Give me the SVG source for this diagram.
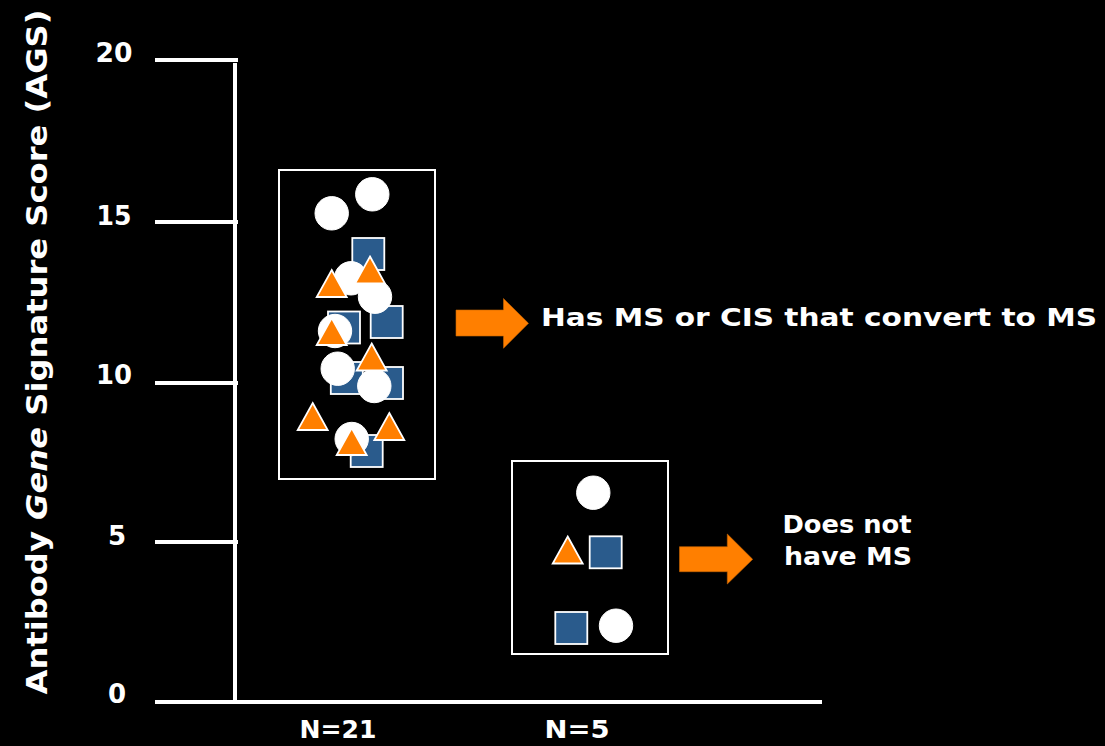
<svg xmlns="http://www.w3.org/2000/svg" width="1105" height="746" viewBox="0 0 1105 746">
<defs>
<style>
.t{font-family:"DejaVu Sans","Liberation Sans",sans-serif;font-weight:bold;fill:#fff}
.ax{stroke:#fff;stroke-width:4;fill:none}
.box{stroke:#fff;stroke-width:2;fill:none}
.c{fill:#fff;stroke:#fff;stroke-width:1}
.s{fill:#2A5B8C;stroke:#fff;stroke-width:1.8}
.tr{fill:#FF7F00;stroke:#fff;stroke-width:1.8;stroke-linejoin:miter}
.ar{fill:#FF7F00;stroke:#C86400;stroke-width:0.6}
</style>
<circle id="cm" r="16.7"/>
<rect id="sm" x="-16" y="-16" width="32" height="32"/>
<polygon id="tm" points="0,-14 15,13 -15,13"/>
</defs>
<rect width="1105" height="746" fill="#000"/>

<g id="axes">
<line class="ax" x1="235" y1="63" x2="235" y2="702"/>
<line class="ax" x1="155" y1="702" x2="822" y2="702" stroke-width="5"/>
<line class="ax" x1="155" y1="60" x2="238" y2="60"/>
<line class="ax" x1="155" y1="222" x2="238" y2="222"/>
<line class="ax" x1="155" y1="383" x2="238" y2="383"/>
<line class="ax" x1="155" y1="542" x2="238" y2="542"/>
<text class="t" x="114" y="62" font-size="26" text-anchor="middle" textLength="37" lengthAdjust="spacingAndGlyphs">20</text>
<text class="t" x="114" y="225" font-size="26" text-anchor="middle" textLength="35" lengthAdjust="spacingAndGlyphs">15</text>
<text class="t" x="114" y="384" font-size="26" text-anchor="middle" textLength="36" lengthAdjust="spacingAndGlyphs">10</text>
<text class="t" x="117" y="545" font-size="26" text-anchor="middle">5</text>
<text class="t" x="117" y="703" font-size="26" text-anchor="middle">0</text>
<text class="t" transform="translate(47,352) rotate(-90)" font-size="29" text-anchor="middle" textLength="685" lengthAdjust="spacingAndGlyphs">Antibody <tspan font-style="italic">Gene</tspan> Signature Score (AGS)</text>
<text class="t" x="338" y="738" font-size="25" text-anchor="middle" textLength="77" lengthAdjust="spacingAndGlyphs">N=21</text>
<text class="t" x="577" y="738" font-size="25" text-anchor="middle" textLength="65" lengthAdjust="spacingAndGlyphs">N=5</text>
</g>

<g id="group-n21">
<rect class="box" x="279" y="170" width="156" height="309"/>
<use href="#sm" class="s" x="368.3" y="254"/>
<use href="#sm" class="s" x="344" y="327.5"/>
<use href="#sm" class="s" x="386.7" y="322"/>
<use href="#sm" class="s" x="346.8" y="378"/>
<use href="#sm" class="s" x="387" y="383"/>
<use href="#sm" class="s" x="366.7" y="451"/>
<use href="#cm" class="c" x="331.7" y="213.3"/>
<use href="#cm" class="c" x="372.3" y="194.3"/>
<use href="#cm" class="c" x="351" y="278.3"/>
<use href="#cm" class="c" x="375" y="296.7"/>
<use href="#cm" class="c" x="335" y="331"/>
<use href="#cm" class="c" x="337.7" y="368.7"/>
<use href="#cm" class="c" x="374.3" y="386"/>
<use href="#cm" class="c" x="351.7" y="439"/>
<use href="#tm" class="tr" x="331.7" y="284"/>
<use href="#tm" class="tr" x="370" y="270.5"/>
<use href="#tm" class="tr" x="331.7" y="332"/>
<use href="#tm" class="tr" x="371.7" y="357.5"/>
<use href="#tm" class="tr" x="312.7" y="417"/>
<use href="#tm" class="tr" x="389.3" y="427"/>
<use href="#tm" class="tr" x="351.7" y="442"/>
</g>

<g id="group-n5">
<rect class="box" x="512" y="461" width="156" height="193"/>
<use href="#cm" class="c" x="593.3" y="492.7"/>
<use href="#tm" class="tr" x="567.7" y="550.5"/>
<use href="#sm" class="s" x="605.7" y="552.3"/>
<use href="#sm" class="s" x="571.3" y="628"/>
<use href="#cm" class="c" x="616" y="625.7"/>
</g>

<g id="connectors">
<polygon class="ar" points="456,310 503.5,310 503.5,298.5 528.5,323.3 503.5,348.3 503.5,336 456,336"/>
<polygon class="ar" points="679.5,546.7 727.3,546.7 727.3,534 752.7,559.3 727.3,584 727.3,571.7 679.5,571.7"/>
</g>

<g id="label-ms">
<text class="t" x="541" y="326" font-size="24" textLength="556" lengthAdjust="spacingAndGlyphs">Has MS or CIS that convert to MS</text>
</g>
<g id="label-nms">
<text class="t" x="847" y="533" font-size="24" text-anchor="middle" textLength="129" lengthAdjust="spacingAndGlyphs">Does not</text>
<text class="t" x="848" y="565" font-size="24" text-anchor="middle" textLength="128" lengthAdjust="spacingAndGlyphs">have MS</text>
</g>
</svg>
